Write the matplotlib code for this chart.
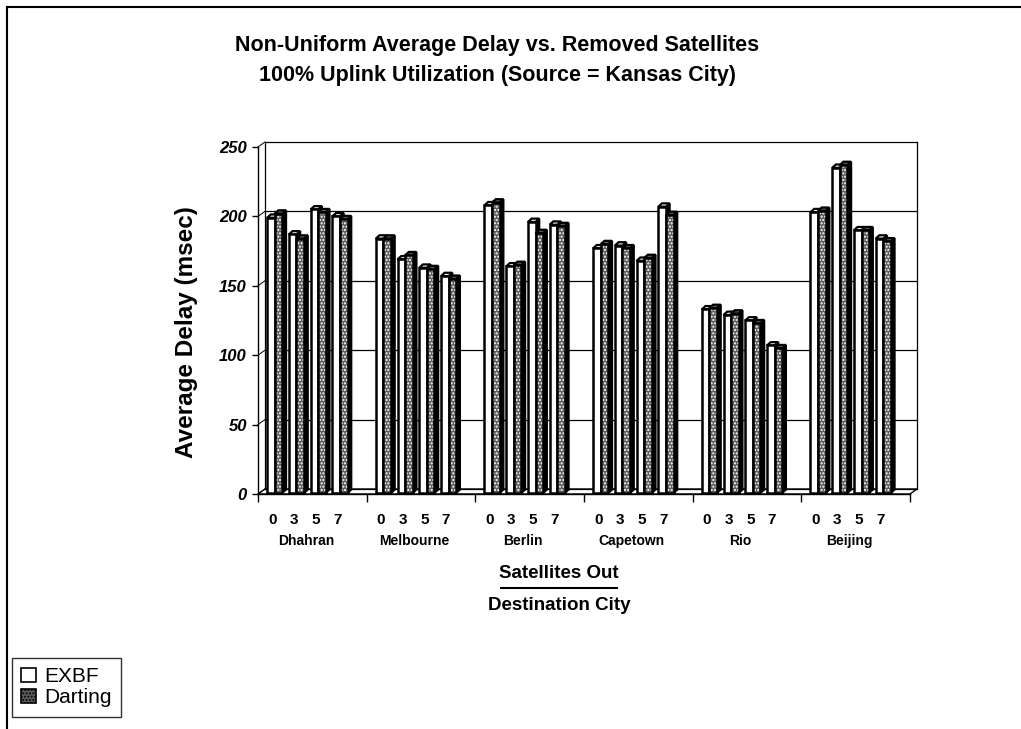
import matplotlib.pyplot as plt
import matplotlib.transforms as mtransforms
from matplotlib.patches import Polygon, Rectangle, Patch
from matplotlib.lines import Line2D

cities = ['Dhahran', 'Melbourne', 'Berlin', 'Capetown', 'Rio', 'Beijing']
sats_out = ['0', '3', '5', '7']
exbf = [
    [199, 187, 205, 200],
    [184, 169, 163, 157],
    [208, 164, 196, 194],
    [177, 179, 168, 207],
    [133, 129, 125, 107],
    [203, 235, 190, 184],
]
darting = [
    [202, 184, 203, 198],
    [184, 172, 162, 155],
    [210, 165, 188, 193],
    [180, 177, 170, 201],
    [134, 130, 123, 105],
    [204, 237, 190, 182],
]
yticks = [0, 50, 100, 150, 200, 250]

W, H = 1021, 729
fig = plt.figure(figsize=(W / 100, H / 100), dpi=100)

def fx(px):
    return px / W

def fy(py):
    return 1 - py / H

SANS = ['Liberation Sans', 'DejaVu Sans']
DART = '#5e5e5e'

# outer chart frame (top and left edges)
fig.add_artist(Line2D([fx(7), 1], [fy(7), fy(7)], color='k', lw=1.5))
fig.add_artist(Line2D([fx(7), fx(7)], [fy(7), 0], color='k', lw=1.5))

slots = 5  # 4 bar pairs + gap per city
xmax = len(cities) * slots
ax = fig.add_axes([fx(258), fy(494), fx(910) - fx(258), fy(147) - fy(494)])
ax.set_xlim(0, xmax)
ax.set_ylim(0, 250)

DX, DY = 0.32, 3.6      # back wall offset
SDX, SDY = 0.17, 2.4    # bar side/top depth

# floor and back wall
ax.add_patch(Polygon([(0, 0), (xmax, 0), (xmax + DX, DY), (DX, DY)],
                     closed=True, fc='white', ec='k', lw=1.0, clip_on=False, zorder=1))
for v in yticks:
    ax.plot([DX, xmax + DX], [v + DY, v + DY], color='k', lw=0.9, clip_on=False, zorder=1)
    ax.plot([0, DX], [v, v + DY], color='k', lw=0.7, clip_on=False, zorder=1)
ax.plot([DX, DX], [DY, 250 + DY], color='k', lw=0.9, clip_on=False, zorder=1)
ax.plot([xmax + DX, xmax + DX], [DY, 250 + DY], color='k', lw=0.9, clip_on=False, zorder=1)


def bar3d(x0, w, h, face, hatch=None, base=0.8, z=3):
    side = [(x0 + w, base), (x0 + w + SDX, base + SDY), (x0 + w + SDX, h + SDY), (x0 + w, h)]
    top = [(x0, h), (x0 + SDX, h + SDY), (x0 + w + SDX, h + SDY), (x0 + w, h)]
    ax.add_patch(Polygon(side, closed=True, fc='k', ec='k', lw=1.6, clip_on=False, zorder=z))
    ax.add_patch(Polygon(top, closed=True, fc=face, ec='k', lw=1.6, clip_on=False, zorder=z))
    ax.add_patch(Rectangle((x0, base), w, h - base, fc=face, ec='white' if hatch else 'k',
                           lw=0 if hatch else 1.8, hatch=hatch, clip_on=False, zorder=z))
    if hatch:
        ax.add_patch(Rectangle((x0, base), w, h - base, fill=False, ec='k', lw=1.8,
                               clip_on=False, zorder=z))


BW = 0.35
for g in range(len(cities)):
    for s in range(len(sats_out)):
        x = g * slots + s
        bar3d(x + 0.42, BW, exbf[g][s], 'white')
        bar3d(x + 0.42 + BW, BW, darting[g][s], DART, hatch='.....')

for sp in ['top', 'right']:
    ax.spines[sp].set_visible(False)
ax.spines['left'].set_linewidth(1.0)
ax.spines['bottom'].set_linewidth(1.0)
ax.set_xticks(range(0, xmax + 1, slots))
ax.set_xticklabels([])
ax.tick_params(axis='x', direction='out', length=6, width=1.0)
ax.set_yticks(yticks)
ax.set_yticklabels([str(v) for v in yticks], fontfamily=SANS, fontweight='bold',
                   fontstyle='italic', fontsize=12)
ax.tick_params(axis='y', direction='out', length=4, width=1.0, pad=4)
ax.patch.set_alpha(0)

# category labels under the axis
tr = mtransforms.blended_transform_factory(ax.transData, fig.transFigure)
for g, city in enumerate(cities):
    for s, lab in enumerate(sats_out):
        ax.text(g * slots + s + 0.65, fy(520), lab, transform=tr, ha='center', va='center',
                fontfamily=SANS, fontweight='bold', fontsize=11)
    ax.text(g * slots + 2.2, fy(541), city, transform=tr, ha='center', va='center',
            fontfamily=SANS, fontweight='bold', fontsize=10)

fig.text(fx(497), fy(45), 'Non-Uniform Average Delay vs. Removed Satellites', ha='center',
         va='center', fontfamily=SANS, fontweight='bold', fontsize=15.5)
fig.text(fx(497), fy(75), '100% Uplink Utilization (Source = Kansas City)', ha='center',
         va='center', fontfamily=SANS, fontweight='bold', fontsize=15.5)
fig.text(fx(186), fy(332), 'Average Delay (msec)', rotation=90, ha='center', va='center',
         fontfamily=SANS, fontweight='bold', fontsize=17.5)
fig.text(fx(559), fy(574), 'Satellites Out', ha='center', va='center',
         fontfamily=SANS, fontweight='bold', fontsize=13.5)
fig.add_artist(Line2D([fx(501), fx(617)], [fy(588), fy(588)], color='k', lw=1.5))
fig.text(fx(559), fy(606), 'Destination City', ha='center', va='center',
         fontfamily=SANS, fontweight='bold', fontsize=13.5)

handles = [Patch(fc='white', ec='k', lw=1.2, label='EXBF'),
           Patch(fc=DART, ec='k', lw=1.2, hatch='.....', label='Darting')]
leg = fig.legend(handles=handles, loc='upper left', bbox_to_anchor=(fx(12), fy(658)),
                 frameon=True, fancybox=False, edgecolor='k', prop={'family': SANS, 'size': 15},
                 handlelength=0.7, handleheight=0.7, handletextpad=0.4, borderpad=0.45,
                 labelspacing=0.1, borderaxespad=0)
leg.get_frame().set_linewidth(1.0)

fig.savefig('out.png', dpi=100)
